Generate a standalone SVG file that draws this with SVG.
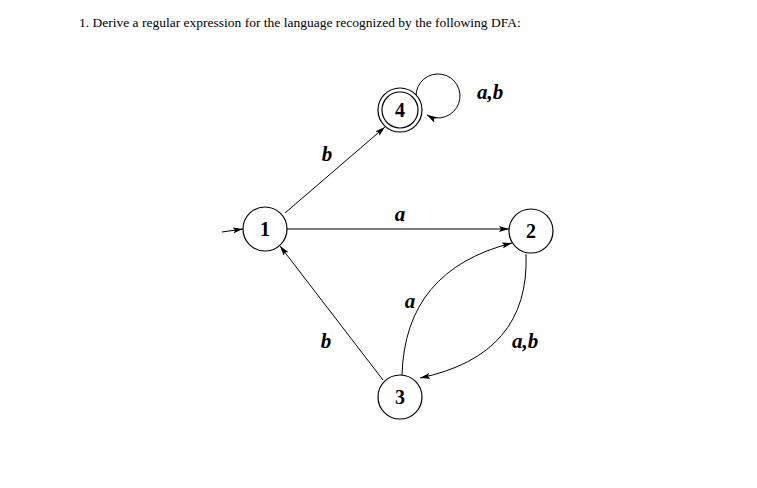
<svg xmlns="http://www.w3.org/2000/svg" width="757" height="488" viewBox="0 0 757 488">
<style>
.n{fill:#fff;stroke:#000;stroke-width:1.2}
.e{fill:none;stroke:#000;stroke-width:1}
.t{font-family:"Liberation Serif",serif;font-weight:bold;font-size:20px;text-anchor:middle}
.l{font-family:"Liberation Serif",serif;font-weight:bold;font-style:italic;font-size:21px;text-anchor:middle}
</style>
<defs><marker id="a" viewBox="0 0 10 6" refX="10" refY="3" markerWidth="10" markerHeight="6" orient="auto" markerUnits="userSpaceOnUse"><path d="M0,0L10,3L0,6L2,3z"/></marker></defs>
<rect width="757" height="488" fill="#fff"/>
<text x="79" y="27" font-family="Liberation Serif,serif" font-size="13.5">1. Derive a regular expression for the language recognized by the following DFA:</text>
<g id="edges">
<path class="e" d="M222,232 L243,229" marker-end="url(#a)"/>
<path class="e" d="M285,213 L385,127" marker-end="url(#a)"/>
<path class="e" d="M287,229 L509,229" marker-end="url(#a)"/>
<path class="e" d="M402,375 Q405,270 512,243" marker-end="url(#a)"/>
<path class="e" d="M526,254 Q530,355 420,378" marker-end="url(#a)"/>
<path class="e" d="M383,380 L280,246" marker-end="url(#a)"/>
<path class="e" d="M416,96 A22,22 0 1 1 427,115" marker-end="url(#a)"/>
<text class="l" x="327" y="161">b</text>
<text class="l" x="400" y="221">a</text>
<text class="l" x="410" y="308">a</text>
<text class="l" x="525" y="348">a,b</text>
<text class="l" x="326" y="348">b</text>
<text class="l" x="490" y="99">a,b</text>
</g>
<g id="n1"><circle class="n" cx="265" cy="229" r="22"/><text class="t" x="265" y="236">1</text></g>
<g id="n2"><circle class="n" cx="531" cy="231" r="22"/><text class="t" x="531" y="238">2</text></g>
<g id="n3"><circle class="n" cx="400" cy="397" r="22"/><text class="t" x="400" y="404">3</text></g>
<g id="n4"><circle class="n" cx="400" cy="110" r="22"/><circle class="n" cx="400" cy="110" r="18"/><text class="t" x="400" y="117">4</text></g>
</svg>
